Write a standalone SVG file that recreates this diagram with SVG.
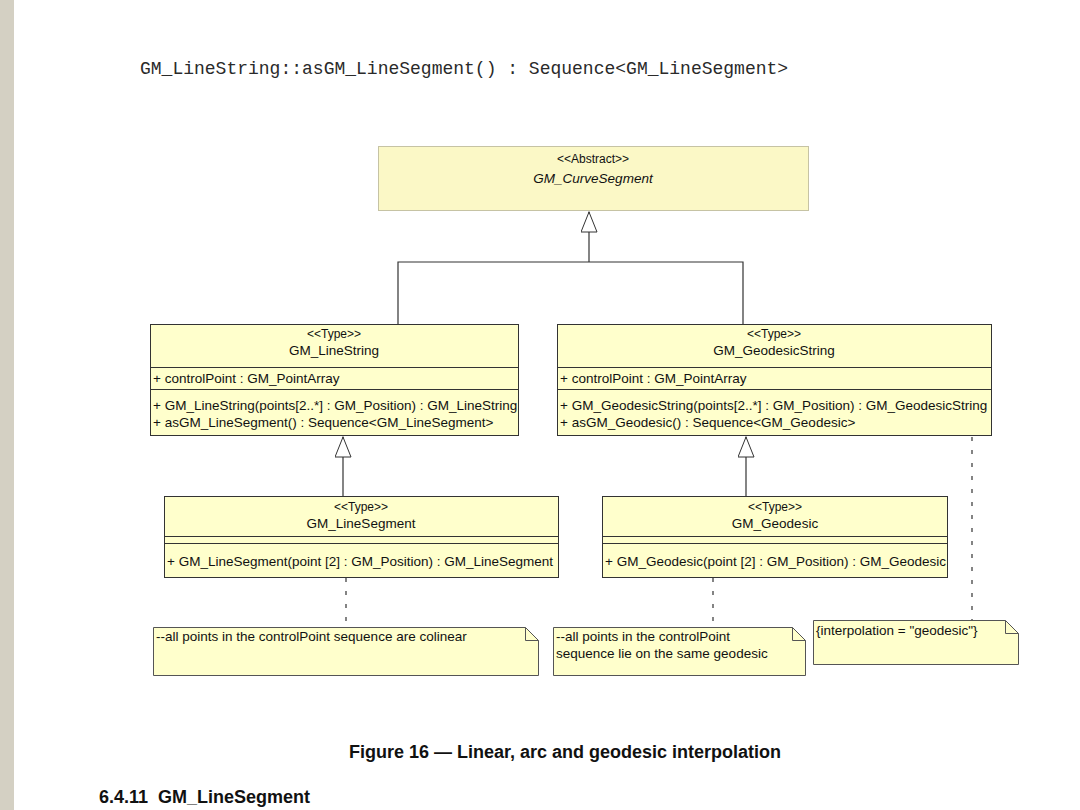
<svg xmlns="http://www.w3.org/2000/svg" width="1080" height="810" viewBox="0 0 1080 810">
<style>
.t{font-family:"Liberation Sans",Arial,sans-serif;font-size:13.5px;fill:#111}
.st{font-size:12px}
.it{font-style:italic}
.c{text-anchor:middle}
.box{fill:#ffffcc;stroke:#333;stroke-width:1}
.abs{fill:#fbf8c6;stroke:#c6c3a4;stroke-width:1}
.dv{stroke:#333;stroke-width:1}
.note{fill:#ffffcc;stroke:#555;stroke-width:1}
.fold{fill:none;stroke:#555;stroke-width:1}
.conn{stroke:#333;stroke-width:1.2;fill:none}
.dash{stroke:#333;stroke-width:1.2;stroke-dasharray:4 9;fill:none}
.mono{font-family:"Liberation Mono","Courier New",monospace;font-size:18px;fill:#2a2a2a}
.cap{font-family:"Liberation Sans",Arial,sans-serif;font-size:18px;font-weight:bold;fill:#111}
</style>
<defs>
<marker id="gen" viewBox="0 0 21 17" refX="21" refY="8.5" markerWidth="21" markerHeight="17" orient="auto" markerUnits="userSpaceOnUse">
<path d="M0.5,0.5 L20.5,8.5 L0.5,16.5 Z" fill="#fff" stroke="#333" stroke-width="1"/>
</marker>
</defs>
<rect x="0" y="0" width="1080" height="810" fill="#fff"/>
<rect x="0" y="0" width="14" height="810" fill="#d4d0c3"/>
<text class="mono" x="140" y="74">GM_LineString::asGM_LineSegment() : Sequence&lt;GM_LineSegment&gt;</text>

<g id="connectors">
<path class="conn" d="M398,324 V262 H743 V324"/>
<path class="conn" d="M589,262 V211.5" marker-end="url(#gen)"/>
<path class="conn" d="M343,496 V436.5" marker-end="url(#gen)"/>
<path class="conn" d="M746,496 V436.5" marker-end="url(#gen)"/>
<path class="dash" d="M346,578 V627"/>
<path class="dash" d="M713,578 V627"/>
<path class="dash" d="M972,437 V620"/>
</g>

<g id="GM_CurveSegment">
<rect class="abs" x="378.5" y="146.5" width="430" height="64"/>
<text class="t st c" x="593" y="163">&lt;&lt;Abstract&gt;&gt;</text>
<text class="t it c" x="593" y="183">GM_CurveSegment</text>
</g>

<g id="GM_LineString">
<rect class="box" x="150.5" y="324.5" width="368" height="111"/>
<line class="dv" x1="150.5" y1="367.5" x2="518.5" y2="367.5"/>
<line class="dv" x1="150.5" y1="389.5" x2="518.5" y2="389.5"/>
<text class="t st c" x="334" y="338">&lt;&lt;Type&gt;&gt;</text>
<text class="t c" x="334" y="355">GM_LineString</text>
<text class="t" x="153" y="383">+ controlPoint : GM_PointArray</text>
<text class="t" x="153" y="410">+ GM_LineString(points[2..*] : GM_Position) : GM_LineString</text>
<text class="t" x="153" y="427">+ asGM_LineSegment() : Sequence&lt;GM_LineSegment&gt;</text>
</g>

<g id="GM_GeodesicString">
<rect class="box" x="557.5" y="324.5" width="434" height="111"/>
<line class="dv" x1="557.5" y1="367.5" x2="991.5" y2="367.5"/>
<line class="dv" x1="557.5" y1="389.5" x2="991.5" y2="389.5"/>
<text class="t st c" x="774" y="338">&lt;&lt;Type&gt;&gt;</text>
<text class="t c" x="774" y="355">GM_GeodesicString</text>
<text class="t" x="560" y="383">+ controlPoint : GM_PointArray</text>
<text class="t" x="560" y="410">+ GM_GeodesicString(points[2..*] : GM_Position) : GM_GeodesicString</text>
<text class="t" x="560" y="427">+ asGM_Geodesic() : Sequence&lt;GM_Geodesic&gt;</text>
</g>

<g id="GM_LineSegment">
<rect class="box" x="164.5" y="496.5" width="394" height="81"/>
<line class="dv" x1="164.5" y1="536.5" x2="558.5" y2="536.5"/>
<line class="dv" x1="164.5" y1="543.5" x2="558.5" y2="543.5"/>
<text class="t st c" x="361" y="511">&lt;&lt;Type&gt;&gt;</text>
<text class="t c" x="361" y="528">GM_LineSegment</text>
<text class="t" x="167" y="566">+ GM_LineSegment(point [2] : GM_Position) : GM_LineSegment</text>
</g>

<g id="GM_Geodesic">
<rect class="box" x="602.5" y="496.5" width="345" height="81"/>
<line class="dv" x1="602.5" y1="536.5" x2="947.5" y2="536.5"/>
<line class="dv" x1="602.5" y1="543.5" x2="947.5" y2="543.5"/>
<text class="t st c" x="775" y="511">&lt;&lt;Type&gt;&gt;</text>
<text class="t c" x="775" y="528">GM_Geodesic</text>
<text class="t" x="605" y="566">+ GM_Geodesic(point [2] : GM_Position) : GM_Geodesic</text>
</g>

<g id="note_colinear">
<path class="note" d="M153.5,627.5 H525.5 L538.5,640.5 V675.5 H153.5 Z"/>
<path class="fold" d="M525.5,627.5 V640.5 H538.5"/>
<text class="t" x="156" y="641">--all points in the controlPoint sequence are colinear</text>
</g>

<g id="note_geodesic">
<path class="note" d="M553.5,627.5 H792.5 L805.5,640.5 V675.5 H553.5 Z"/>
<path class="fold" d="M792.5,627.5 V640.5 H805.5"/>
<text class="t" x="556" y="641">--all points in the controlPoint</text>
<text class="t" x="556" y="658">sequence lie on the same geodesic</text>
</g>

<g id="note_interpolation">
<path class="note" d="M813.5,620.5 H1005.5 L1018.5,633.5 V664.5 H813.5 Z"/>
<path class="fold" d="M1005.5,620.5 V633.5 H1018.5"/>
<text class="t" x="816" y="635">{interpolation = "geodesic"}</text>
</g>

<text class="cap" x="565" y="758" text-anchor="middle">Figure 16 — Linear, arc and geodesic interpolation</text>
<text class="cap" x="99" y="803">6.4.11&#160; GM_LineSegment</text>
</svg>
